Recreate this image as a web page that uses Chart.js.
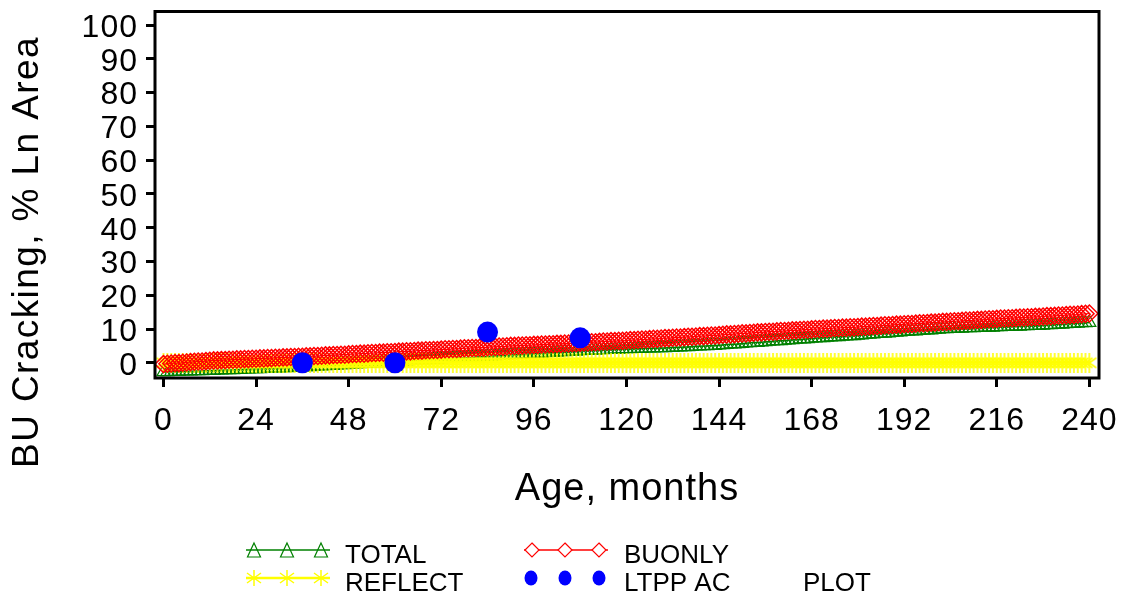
<!DOCTYPE html>
<html>
<head>
<meta charset="utf-8">
<script src="https://cdn.jsdelivr.net/npm/chart.js@4.4.1/dist/chart.umd.min.js"></script>
<style>
html,body{margin:0;padding:0;background:#fff;}
canvas{display:block;}
</style>
</head>
<body>
<canvas id="c" width="1128" height="598"></canvas>
<script>
// ---------- DATA ----------
const months = Array.from({length: 241}, (_, i) => i); // 0..240 months

const totalValues = [
  -2.7,-2.7,-2.6,-2.6,-2.6,-2.5,-2.5,-2.5,-2.4,-2.4,-2.4,-2.3,
  -2.3,-2.3,-2.2,-2.2,-2.1,-2.1,-2.1,-2.0,-2.0,-1.9,-1.9,-1.8,
  -1.8,-1.8,-1.7,-1.7,-1.6,-1.6,-1.6,-1.5,-1.5,-1.4,-1.4,-1.3,
  -1.3,-1.2,-1.2,-1.1,-1.0,-1.0,-0.9,-0.8,-0.8,-0.7,-0.6,-0.6,
  -0.5,-0.4,-0.4,-0.3,-0.2,-0.2,-0.1,0.0,0.0,0.1,0.2,0.2,
  0.3,0.4,0.4,0.5,0.6,0.6,0.7,0.8,0.8,0.9,1.0,1.0,
  1.1,1.2,1.2,1.3,1.4,1.4,1.5,1.6,1.6,1.7,1.8,1.8,
  1.9,2.0,2.0,2.1,2.2,2.2,2.3,2.4,2.4,2.5,2.6,2.6,
  2.7,2.8,2.8,2.9,3.0,3.0,3.1,3.2,3.2,3.3,3.4,3.4,
  3.5,3.6,3.6,3.7,3.7,3.8,3.8,3.9,3.9,4.0,4.0,4.1,
  4.1,4.1,4.2,4.2,4.2,4.3,4.3,4.3,4.4,4.4,4.4,4.5,
  4.5,4.6,4.6,4.7,4.7,4.8,4.9,4.9,5.0,5.0,5.1,5.1,
  5.2,5.3,5.4,5.5,5.5,5.6,5.7,5.8,5.9,6.0,6.0,6.1,
  6.2,6.3,6.4,6.5,6.5,6.6,6.7,6.8,6.9,7.0,7.0,7.1,
  7.2,7.3,7.4,7.4,7.5,7.6,7.7,7.7,7.8,7.9,8.0,8.0,
  8.1,8.2,8.3,8.4,8.5,8.6,8.7,8.7,8.8,8.9,9.0,9.1,
  9.2,9.3,9.4,9.4,9.5,9.6,9.7,9.7,9.8,9.9,10.0,10.0,
  10.1,10.1,10.2,10.2,10.3,10.3,10.3,10.4,10.4,10.5,10.5,10.5,
  10.6,10.6,10.7,10.7,10.8,10.8,10.8,10.9,10.9,11.0,11.0,11.0,
  11.1,11.2,11.2,11.3,11.4,11.4,11.5,11.6,11.6,11.7,11.8,11.8,11.9
];

const buonlyValues = [
  -0.4,-0.3,-0.2,-0.1,-0.1,0.0,0.1,0.2,0.3,0.4,0.4,0.5,
  0.6,0.7,0.7,0.8,0.8,0.9,0.9,1.0,1.0,1.1,1.1,1.2,
  1.2,1.3,1.3,1.4,1.4,1.5,1.5,1.6,1.6,1.7,1.7,1.8,
  1.8,1.9,1.9,2.0,2.0,2.1,2.2,2.2,2.3,2.3,2.4,2.4,
  2.5,2.6,2.6,2.7,2.7,2.8,2.9,2.9,3.0,3.0,3.1,3.1,
  3.2,3.3,3.3,3.4,3.4,3.5,3.6,3.6,3.7,3.7,3.8,3.8,
  3.9,4.0,4.0,4.1,4.1,4.2,4.3,4.3,4.4,4.4,4.5,4.5,
  4.6,4.7,4.7,4.8,4.8,4.9,5.0,5.0,5.1,5.1,5.2,5.2,
  5.3,5.3,5.4,5.4,5.5,5.5,5.6,5.6,5.7,5.7,5.8,5.8,
  5.9,6.0,6.0,6.1,6.1,6.2,6.3,6.3,6.4,6.4,6.5,6.5,
  6.6,6.7,6.7,6.8,6.9,6.9,7.0,7.1,7.1,7.2,7.3,7.3,
  7.4,7.5,7.5,7.6,7.7,7.7,7.8,7.9,7.9,8.0,8.1,8.1,
  8.2,8.3,8.4,8.4,8.5,8.6,8.7,8.7,8.8,8.9,9.0,9.0,
  9.1,9.2,9.2,9.3,9.4,9.4,9.5,9.6,9.6,9.7,9.8,9.8,
  9.9,10.0,10.0,10.1,10.1,10.2,10.3,10.3,10.4,10.4,10.5,10.5,
  10.6,10.7,10.7,10.8,10.9,10.9,11.0,11.1,11.1,11.2,11.3,11.3,
  11.4,11.5,11.5,11.6,11.7,11.7,11.8,11.9,11.9,12.0,12.1,12.1,
  12.2,12.3,12.3,12.4,12.5,12.5,12.6,12.7,12.7,12.8,12.9,12.9,
  13.0,13.1,13.1,13.2,13.2,13.3,13.4,13.4,13.5,13.5,13.6,13.6,
  13.7,13.8,13.8,13.9,14.0,14.0,14.1,14.2,14.2,14.3,14.4,14.5,14.6
];

const reflectValues = [
  0,0,0,0,0,0,0,0,0,0,0,0, 0,0,0,0,0,0,0,0,0,0,0,0,
  0,0,0,0,0,0,0,0,0,0,0,0, 0,0,0,0,0,0,0,0,0,0,0,0,
  0,0,0,0,0,0,0,0,0,0,0,0, 0,0,0,0,0,0,0,0,0,0,0,0,
  0,0,0,0,0,0,0,0,0,0,0,0, 0,0,0,0,0,0,0,0,0,0,0,0,
  0,0,0,0,0,0,0,0,0,0,0,0, 0,0,0,0,0,0,0,0,0,0,0,0,
  0,0,0,0,0,0,0,0,0,0,0,0, 0,0,0,0,0,0,0,0,0,0,0,0,
  0,0,0,0,0,0,0,0,0,0,0,0, 0,0,0,0,0,0,0,0,0,0,0,0,
  0,0,0,0,0,0,0,0,0,0,0,0, 0,0,0,0,0,0,0,0,0,0,0,0,
  0,0,0,0,0,0,0,0,0,0,0,0, 0,0,0,0,0,0,0,0,0,0,0,0,
  0,0,0,0,0,0,0,0,0,0,0,0, 0,0,0,0,0,0,0,0,0,0,0,0,0
];

const ltppMonths = [36, 60, 84, 108];
const ltppValues = [0, 0, 9.1, 7.4];

const xTickValues = [0, 24, 48, 72, 96, 120, 144, 168, 192, 216, 240];
const yTickValues = [0, 10, 20, 30, 40, 50, 60, 70, 80, 90, 100];

const seriesNames = ['TOTAL', 'BUONLY', 'REFLECT', 'LTPP AC'];
const xTitle = 'Age, months';
const yTitle = 'BU Cracking, % Ln Area';
const extraLegendText = 'PLOT';

// ---------- STYLE ----------
const FONT = "'Liberation Sans', Arial, Helvetica, sans-serif";
const GREEN = '#008000', RED = '#ff0000', YELLOW = '#ffff00', BLUE = '#0000ff';

function makeAsterisk(color, w, h, lw) {
  const c = document.createElement('canvas');
  c.width = w; c.height = h;
  const g = c.getContext('2d');
  g.strokeStyle = color; g.lineWidth = lw;
  const cx = w / 2, cy = h / 2;
  g.beginPath();
  g.moveTo(cx, 0); g.lineTo(cx, h);
  g.moveTo(cx - 7, cy - 5); g.lineTo(cx + 7, cy + 5);
  g.moveTo(cx - 7, cy + 5); g.lineTo(cx + 7, cy - 5);
  g.stroke();
  return c;
}
const asteriskImg = makeAsterisk(YELLOW, 16, 20, 1.6);

const framePlugin = {
  id: 'frameAndLegend',
  beforeDraw(chart) {
    chart.ctx.letterSpacing = '1px';
  },
  afterDatasetsDraw(chart) {
    const {ctx, chartArea: a} = chart;
    ctx.save();
    ctx.strokeStyle = '#000';
    ctx.lineWidth = 3;
    ctx.strokeRect(a.left, a.top, a.right - a.left, a.bottom - a.top);
    ctx.restore();
  },
  afterDraw(chart) {
    const ctx = chart.ctx;
    ctx.save();
    ctx.fillStyle = '#000';
    // x title
    ctx.letterSpacing = '1px';
    ctx.font = '38px ' + FONT;
    ctx.textAlign = 'center';
    ctx.textBaseline = 'middle';
    ctx.fillText(xTitle, 627, 490);
    // y title
    ctx.save();
    ctx.letterSpacing = '1.4px';
    ctx.font = '37px ' + FONT;
    ctx.translate(28, 252);
    ctx.rotate(-Math.PI / 2);
    ctx.fillText(yTitle, 0, 0);
    ctx.restore();

    // legend
    ctx.letterSpacing = '0px';
    ctx.font = '26px ' + FONT;
    ctx.textAlign = 'left';
    ctx.textBaseline = 'alphabetic';
    const r1 = 550, r2 = 578;
    const xs1 = [254, 287, 321];
    const xs2 = [532, 565, 599];
    // TOTAL
    ctx.strokeStyle = GREEN; ctx.lineWidth = 1.5;
    ctx.beginPath(); ctx.moveTo(246, r1); ctx.lineTo(330, r1); ctx.stroke();
    ctx.lineWidth = 1.2;
    xs1.forEach(cx => {
      ctx.beginPath();
      ctx.moveTo(cx, r1 - 7); ctx.lineTo(cx + 6.5, r1 + 7); ctx.lineTo(cx - 6.5, r1 + 7); ctx.closePath();
      ctx.stroke();
    });
    ctx.fillText(seriesNames[0], 345, 563);
    // BUONLY
    ctx.strokeStyle = RED; ctx.lineWidth = 1.5;
    ctx.beginPath(); ctx.moveTo(524, r1); ctx.lineTo(608, r1); ctx.stroke();
    ctx.lineWidth = 1.2;
    xs2.forEach(cx => {
      ctx.beginPath();
      ctx.moveTo(cx, r1 - 7); ctx.lineTo(cx + 7, r1); ctx.lineTo(cx, r1 + 7); ctx.lineTo(cx - 7, r1); ctx.closePath();
      ctx.fillStyle = '#fff'; ctx.fill();
      ctx.stroke();
    });
    ctx.fillStyle = '#000';
    ctx.fillText(seriesNames[1], 624, 563);
    // REFLECT
    ctx.strokeStyle = YELLOW; ctx.lineWidth = 2.5;
    ctx.beginPath(); ctx.moveTo(246, r2); ctx.lineTo(330, r2); ctx.stroke();
    ctx.lineWidth = 1.5;
    xs1.forEach(cx => {
      ctx.beginPath();
      ctx.moveTo(cx, r2 - 8); ctx.lineTo(cx, r2 + 8);
      ctx.moveTo(cx - 7, r2 - 5); ctx.lineTo(cx + 7, r2 + 5);
      ctx.moveTo(cx - 7, r2 + 5); ctx.lineTo(cx + 7, r2 - 5);
      ctx.stroke();
    });
    ctx.fillStyle = '#000';
    ctx.fillText(seriesNames[2], 345, 591);
    // LTPP AC
    ctx.fillStyle = BLUE;
    [531, 565, 599].forEach(cx => {
      ctx.beginPath(); ctx.ellipse(cx, r2, 6.5, 7.5, 0, 0, Math.PI * 2); ctx.fill();
    });
    ctx.fillStyle = '#000';
    ctx.fillText(seriesNames[3], 624, 591);
    ctx.fillText(extraLegendText, 803, 591);
    ctx.restore();
  }
};

new Chart(document.getElementById('c'), {
  type: 'line',
  data: {
    labels: months,
    datasets: [
      {
        label: seriesNames[0], data: totalValues, order: 3,
        borderColor: GREEN, borderWidth: 1.5,
        pointStyle: 'triangle', pointRadius: 7.5,
        pointBorderColor: GREEN, pointBackgroundColor: 'rgba(0,0,0,0)', pointBorderWidth: 1.2
      },
      {
        label: seriesNames[1], data: buonlyValues, order: 1,
        borderColor: RED, borderWidth: 1.2,
        pointStyle: 'rectRot', pointRadius: 8.5,
        pointBorderColor: RED, pointBackgroundColor: 'rgba(0,0,0,0)', pointBorderWidth: 1.5
      },
      {
        label: seriesNames[2], data: reflectValues, order: 2,
        borderColor: YELLOW, borderWidth: 1.5,
        pointStyle: asteriskImg, pointRadius: 10
      },
      {
        label: seriesNames[3], order: 0,
        data: ltppMonths.map((m, i) => ({x: m, y: ltppValues[i]})),
        showLine: false,
        pointStyle: 'circle', pointRadius: 10.5,
        pointBackgroundColor: BLUE, pointBorderColor: BLUE, pointBorderWidth: 0
      }
    ]
  },
  options: {
    responsive: false,
    animation: false,
    events: [],
    layout: {padding: {top: 9, right: 29, left: 0, bottom: 0}},
    plugins: {legend: {display: false}, tooltip: {enabled: false}},
    elements: {line: {tension: 0}},
    scales: {
      x: {
        type: 'linear', min: -2.2, max: 242.5,
        afterBuildTicks(s) { s.ticks = xTickValues.map(v => ({value: v})); },
        afterFit(s) { s.height = 220; s.paddingLeft = 0; s.paddingRight = 0; },
        border: {display: false},
        grid: {display: true, drawOnChartArea: false, drawTicks: true, tickLength: 9, lineWidth: 3, color: '#000'},
        ticks: {color: '#000', font: {family: FONT, size: 32, lineHeight: 1.2}, padding: 15, maxRotation: 0, autoSkip: false, callback: v => String(v)}
      },
      y: {
        type: 'linear', min: -4.5, max: 104,
        afterBuildTicks(s) { s.ticks = yTickValues.map(v => ({value: v})); },
        afterFit(s) { s.width = 155; s.paddingTop = 0; s.paddingBottom = 0; },
        border: {display: false},
        grid: {display: true, drawOnChartArea: false, drawTicks: true, tickLength: 9, lineWidth: 3, color: '#000'},
        ticks: {color: '#000', font: {family: FONT, size: 32, lineHeight: 1.2}, padding: 8, labelOffset: 3, autoSkip: false, callback: v => String(v)}
      }
    }
  },
  plugins: [framePlugin]
});
</script>
</body>
</html>
